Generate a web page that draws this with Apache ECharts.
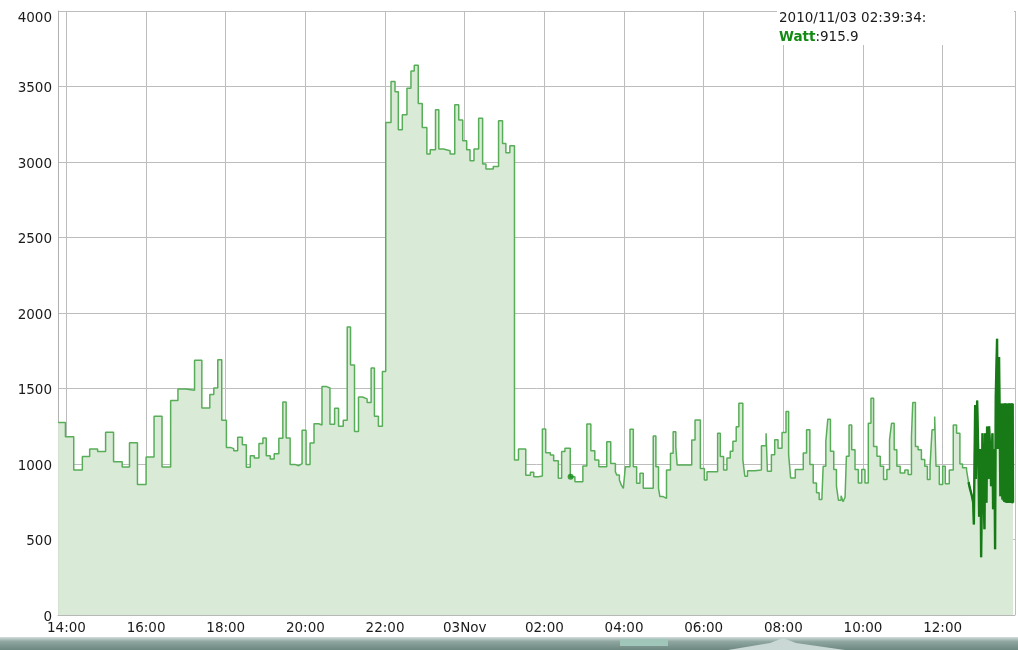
<!DOCTYPE html>
<html>
<head>
<meta charset="utf-8">
<script src="https://cdn.jsdelivr.net/npm/echarts@6/dist/echarts.min.js"></script>
<style>
html,body{margin:0;padding:0;background:#fff;}
#c{width:1018px;height:650px;}
</style>
</head>
<body>
<div id="c"></div>
<script>
// Minutes after 2010-11-02 14:00 at which the reading changes, and the new reading (Watt)
const minutes = [
  -12.5, -1.5, 11, 24, 35, 47, 59, 71, 84, 95, 107, 120, 132, 144, 157, 168, 180, 193, 204, 216,
  222, 228, 234, 241, 247, 252, 258, 265, 271, 277, 283, 290, 296, 301, 307, 313, 320, 326, 331, 337,
  345, 350, 355, 361, 367, 373, 380, 385, 391, 397, 404, 410, 417, 423, 428, 434, 440, 446, 453, 459,
  464, 470, 476, 481,
  489, 495, 500, 506, 513, 519, 524, 530, 536, 543, 548, 556, 561, 568, 578, 585, 591, 597, 603, 608,
  614, 621, 627, 632, 643, 651, 657, 662, 668, 675,
  681, 692, 699, 704, 711, 717, 722, 729, 734, 741, 746, 751, 759, 766, 778, 784, 790, 796, 802, 814,
  820, 827, 829, 833, 836, 839, 842, 849, 854, 859, 864, 869, 884, 888, 892, 894, 899, 904, 910, 914,
  918, 920, 942, 947, 955, 961, 965, 981, 985, 990, 995, 1000, 1004, 1009, 1013, 1019, 1022, 1026, 1037,
  1047, 1054, 1056, 1062, 1067, 1072, 1078, 1084, 1088, 1091, 1098, 1110, 1115, 1120, 1125, 1130, 1134, 1138, 1140, 1144,
  1147, 1151, 1156, 1160, 1163, 1167, 1170, 1173, 1175, 1179, 1183, 1188, 1193, 1198, 1203, 1208, 1212, 1216, 1221, 1226,
  1231, 1236, 1240, 1243, 1247, 1251, 1256, 1263, 1268, 1273, 1275, 1279, 1283, 1288, 1293, 1297, 1301, 1304, 1308, 1310,
  1315, 1320, 1324, 1330, 1336, 1341, 1346, 1350, 1356, 1359, 1361, 1364, 1366,
  1367, 1369, 1370, 1372, 1374, 1375, 1377, 1378, 1380, 1381, 1383, 1384, 1386, 1387, 1389, 1390, 1392, 1393, 1395, 1396,
  1398, 1399, 1400, 1402, 1403, 1404, 1405, 1407, 1408, 1410, 1411, 1412,
  1412.5, 1413, 1413.5, 1414, 1414.5, 1415, 1415.5, 1416, 1416.5, 1417, 1417.5, 1418, 1418.5, 1419, 1419.5, 1420,
  1420.5, 1421, 1421.5, 1422, 1422.5, 1423, 1423.5, 1424, 1424.5, 1425, 1425.5, 1426
];
const watts = [
  1275, 1180, 960, 1050, 1100, 1082, 1210, 1015, 980, 1140, 865, 1046, 1316, 980, 1420, 1497, 1488, 1687, 1371, 1461,
  1503, 1691, 1289, 1110, 1102, 1088, 1177, 1128, 978, 1055, 1040, 1135, 1172, 1055, 1033, 1068, 1170, 1411, 1172, 996,
  989, 1002, 1223, 996, 1139, 1267, 1258, 1514, 1503, 1263, 1369, 1250, 1289, 1907, 1656, 1216, 1444, 1431, 1408, 1636,
  1316, 1250, 1612, 3262,
  3533, 3465, 3214, 3313, 3489, 3603, 3641, 3388, 3229, 3053, 3081, 3346, 3086, 3075, 3053, 3379, 3278, 3141, 3081, 3009,
  3086, 3289, 2987, 2954, 2971, 3273, 3123, 3062, 3108, 1026,
  1100, 925, 945, 915, 920, 1232, 1075, 1060, 1022, 905, 1082, 1104, 915.9, 883, 987, 1265, 1088, 1026, 982, 1148,
  1004, 949, 927, 894, 860, 839, 982, 1230, 982, 872, 938, 839, 1185, 982, 839, 784, 772, 960, 1071, 1214,
  1115, 993, 1159, 1291, 971, 894, 949, 1203, 1049, 960, 1040, 1085, 1150, 1247, 1402, 1029, 919, 955, 960,
  1121, 1204, 952, 1062, 1160, 1105, 1209, 1347, 1062, 908, 963, 1073, 1226, 996, 875, 809, 765, 754, 985, 1149,
  1297, 1084, 963, 853, 760, 790, 750, 780, 1051, 1259, 1095, 963, 875, 963, 875, 1270, 1435, 1116, 1051, 985,
  897, 963, 1160, 1270, 1095, 985, 940, 960, 930, 1182, 1407, 1116, 1095, 1029, 985, 897, 985, 1226, 1314, 985,
  864, 985, 870, 960, 1259, 1204, 1000, 975, 960, 880, 840, 790, 745,
  600, 1390, 900, 1420, 1000, 650, 1100, 382, 1204, 900, 568, 1204, 743, 1248, 900, 1250, 1050, 853, 1204, 700,
  1100, 436, 1445, 1830, 1100, 1226, 1708, 787, 1401, 765, 1401, 755,
  1400, 748, 1396, 752, 1402, 745, 1398, 750, 1395, 742, 1401, 747, 1399, 744, 1397, 749,
  1403, 741, 1398, 746, 1400, 743, 1396, 748, 1402, 740, 1399, 745
];
// Dense, darker-looking stretch starts at this minute
const denseFrom = 1359;
// Axis range (minutes after 14:00) and y ticks
const xRangeMinutes = [-12.7, 1429];
const yTicks = [0, 500, 1000, 1500, 2000, 2500, 3000, 3500, 4000];
// Highlighted reading shown in the info box
const hoverTime = '2010/11/03 02:39:34';
const hoverValue = 915.9;
const seriesName = 'Watt';

const base = new Date(2010, 10, 2, 14, 0, 0).getTime();
const toTs = m => base + m * 60000;
const data = minutes.map((m, i) => [toTs(m), watts[i]]);
data.push([toTs(1426.3), watts[watts.length - 1]]);
const dense = data.filter(d => d[0] >= toTs(denseFrom));
const hoverTs = new Date(hoverTime).getTime();

const font = 'DejaVu Sans';
const pad = n => String(n).padStart(2, '0');
const HOUR = 3600000;
const yMax = yTicks[yTicks.length - 1];

const chart = echarts.init(document.getElementById('c'), null, {renderer: 'canvas'});
chart.setOption({
  animation: false,
  backgroundColor: '#ffffff',
  grid: {left: 58, top: 11, right: 3, bottom: 35, containLabel: false},
  xAxis: {
    type: 'time',
    min: toTs(xRangeMinutes[0]),
    max: toTs(xRangeMinutes[1]),
    minInterval: 2.5 * HOUR,
    maxInterval: 2.5 * HOUR,
    splitNumber: 10,
    axisLine: {show: true, lineStyle: {color: '#b8b8b8', width: 1}},
    axisTick: {show: false},
    splitLine: {show: true, lineStyle: {color: '#bdbdbd', width: 1}},
    axisLabel: {
      showMinLabel: false, showMaxLabel: false,
      hideOverlap: false,
      margin: 6,
      color: '#1a1a1a', fontFamily: font, fontSize: 13.5, fontWeight: 'normal',
      formatter: v => {
        const d = new Date(v);
        if (d.getHours() === 0 && d.getMinutes() === 0) return pad(d.getDate()) + 'Nov';
        return pad(d.getHours()) + ':' + pad(d.getMinutes());
      }
    }
  },
  yAxis: {
    type: 'value',
    min: yTicks[0],
    max: yMax,
    interval: 500,
    axisLine: {show: true, lineStyle: {color: '#b0b0b0', width: 1}},
    axisTick: {show: false},
    splitLine: {show: true, lineStyle: {color: '#bdbdbd', width: 1}},
    axisLabel: {
      margin: 6, color: '#1a1a1a', fontFamily: font, fontSize: 13.5,
      formatter: v => v === yMax ? '{top|' + v + '}' : '{n|' + v + '}',
      rich: {
        top: {padding: [15, 0, 0, 0], fontFamily: font, fontSize: 13.5, color: '#1a1a1a'},
        n: {padding: [4, 0, 0, 0], fontFamily: font, fontSize: 13.5, color: '#1a1a1a'}
      }
    }
  },
  series: [
    {
      name: seriesName,
      type: 'line',
      step: 'end',
      data: data,
      symbol: 'none',
      lineStyle: {color: '#58ae58', width: 1.5},
      areaStyle: {color: '#d9ead6', opacity: 1},
      z: 2
    },
    {
      name: seriesName + ' dense',
      type: 'line',
      step: 'end',
      data: dense,
      symbol: 'none',
      lineStyle: {color: '#177a17', width: 2.4},
      z: 3
    },
    {
      name: 'hover',
      type: 'scatter',
      data: [[hoverTs, hoverValue]],
      symbolSize: 6,
      itemStyle: {color: '#168a16'},
      z: 4
    }
  ],
  graphic: [
    {type: 'rect', z: 100, shape: {x: 777, y: 0, width: 237, height: 45}, style: {fill: '#ffffff'}},
    {
      type: 'text', z: 101, left: 779, top: 11,
      style: {text: hoverTime + ':', fill: '#1a1a1a', font: '13.5px "DejaVu Sans"'}
    },
    {
      type: 'text', z: 101, left: 779, top: 30,
      style: {
        text: '{b|' + seriesName + '}{n|:' + hoverValue + '}',
        rich: {
          b: {fill: '#138a13', fontWeight: 'bold', fontFamily: font, fontSize: 13.5},
          n: {fill: '#1a1a1a', fontFamily: font, fontSize: 13.5}
        }
      }
    },
    {
      type: 'rect', z: 100, shape: {x: 0, y: 637, width: 1018, height: 13},
      style: {fill: new echarts.graphic.LinearGradient(0, 0, 0, 1, [
        {offset: 0, color: '#d3dedb'}, {offset: 0.35, color: '#8fa6a0'}, {offset: 1, color: '#6d8781'}
      ])}
    },
    {type: 'rect', z: 101, shape: {x: 620, y: 639, width: 48, height: 7}, style: {fill: '#9fc6b8'}},
    {
      type: 'polygon', z: 101,
      shape: {points: [[728, 650], [770, 643], [783, 638], [796, 643], [845, 650]]},
      style: {fill: '#c9d8d4'}
    }
  ]
});
</script>
</body>
</html>
